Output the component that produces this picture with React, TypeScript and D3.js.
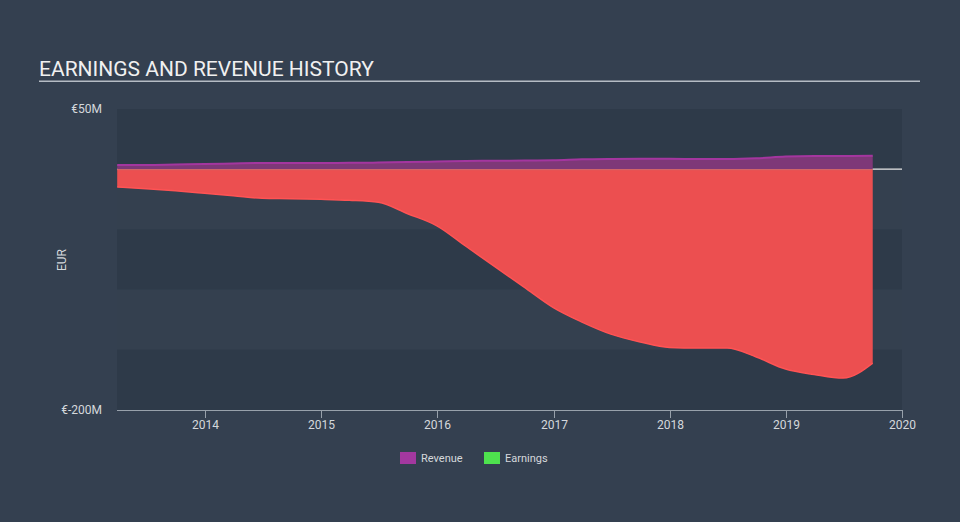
import React from "react";
import * as d3 from "d3";

const dates: string[] = [
  "2013-03-31","2013-06-30","2013-09-30","2013-12-31",
  "2014-03-31","2014-06-30","2014-09-30","2014-12-31",
  "2015-03-31","2015-06-30","2015-09-30","2015-12-31",
  "2016-03-31","2016-06-30","2016-09-30","2016-12-31",
  "2017-03-31","2017-06-30","2017-09-30","2017-12-31",
  "2018-03-31","2018-06-30","2018-09-30","2018-12-31",
  "2019-03-31","2019-06-30","2019-10-01",
];
const revenue: number[] = [
  3.5, 3.5, 3.9, 4.3, 4.8, 5.2, 5.2, 5.2, 5.3, 5.5, 6.0, 6.3, 6.8, 7.0,
  7.2, 7.4, 8.2, 8.5, 8.6, 8.6, 8.5, 8.4, 9.0, 10.5, 11.0, 11.0, 11.2,
];
const earnings: number[] = [
  -14.8, -16.3, -18.0, -20.0, -22.0, -24.2, -24.5, -25.0, -25.8, -27.5,
  -37, -47, -64, -81, -98, -115, -127, -137, -143.5, -148, -148.5,
  -148.5, -156, -166, -170.5, -173.5, -161,
];
const yearTicks: number[] = [2014, 2015, 2016, 2017, 2018, 2019, 2020];
const yTickValues: number[] = [50, -200];
const yTickLabels: string[] = ["€50M", "€-200M"];
const bandEdges: number[] = [50, 0, -50, -100, -150, -200];

const W = 960;
const H = 522;
const FONT = "Roboto, 'Open Sans', sans-serif";

export default function App() {
  const parse = d3.timeParse("%Y-%m-%d");
  const data = dates.map((d, i) => ({
    date: parse(d) as Date,
    rev: revenue[i],
    earn: earnings[i],
  }));

  const x = d3
    .scaleTime()
    .domain([new Date(2014, 0, 1), new Date(2020, 0, 1)])
    .range([205, 902]);
  const y = d3.scaleLinear().domain([-200, 50]).range([410, 109]);

  const curve = d3.curveMonotoneX;
  const revArea = d3
    .area<any>()
    .x((d) => x(d.date))
    .y0(y(0))
    .y1((d) => y(d.rev))
    .curve(curve);
  const revLine = d3
    .line<any>()
    .x((d) => x(d.date))
    .y((d) => y(d.rev))
    .curve(curve);
  const earnArea = d3
    .area<any>()
    .x((d) => x(d.date))
    .y0(y(0))
    .y1((d) => y(d.earn))
    .curve(curve);
  const earnLine = d3
    .line<any>()
    .x((d) => x(d.date))
    .y((d) => y(d.earn))
    .curve(curve);

  const bands = [];
  for (let i = 0; i < bandEdges.length - 1; i++) {
    bands.push(
      <rect
        key={i}
        x={117}
        y={y(bandEdges[i])}
        width={902 - 117}
        height={y(bandEdges[i + 1]) - y(bandEdges[i])}
        fill={i % 2 === 0 ? "#2e3a49" : "#34404f"}
      />
    );
  }

  const lastX = x(data[data.length - 1].date);

  return (
    <svg
      width={W}
      height={H}
      style={{ display: "block", position: "absolute", left: 0, top: 0 }}
    >
      <rect x={0} y={0} width={W} height={H} fill="#344050" />
      <text x={39} y={76} fill="#f0f0f0" fontFamily={FONT} fontSize={21}>
        EARNINGS AND REVENUE HISTORY
      </text>
      <rect x={39} y={80.5} width={881} height={1.5} fill="#b5bcc4" />

      {bands}

      <line
        x1={117}
        x2={902}
        y1={y(0)}
        y2={y(0)}
        stroke="#e8e8e8"
        strokeWidth={1.2}
      />

      <path d={revArea(data) || ""} fill="#7e3878" />
      <path d={revLine(data) || ""} fill="none" stroke="#a4369f" strokeWidth={2} />
      <path d={earnArea(data) || ""} fill="#ec4f50" />
      <path d={earnLine(data) || ""} fill="none" stroke="#ff5354" strokeWidth={1.5} />
      <line x1={117} x2={lastX} y1={y(0) + 0.5} y2={y(0) + 0.5} stroke="#c96a6a" strokeWidth={1} opacity={0.6} />

      {yTickValues.map((v, i) => (
        <text
          key={v}
          x={102}
          y={y(v) + 4}
          textAnchor="end"
          fill="#d4d8dc"
          fontFamily={FONT}
          fontSize={12}
        >
          {yTickLabels[i]}
        </text>
      ))}
      <text
        transform={`translate(66,${260}) rotate(-90)`}
        textAnchor="middle"
        fill="#d4d8dc"
        fontFamily={FONT}
        fontSize={12}
      >
        EUR
      </text>

      <line x1={117} x2={903} y1={410.5} y2={410.5} stroke="#98a1ab" strokeWidth={1} />
      {yearTicks.map((t) => {
        const xx = Math.round(x(new Date(t, 0, 1))) + 0.5;
        return (
          <g key={t}>
            <line x1={xx} x2={xx} y1={410} y2={418} stroke="#98a1ab" strokeWidth={1} />
            <text
              x={xx}
              y={429}
              textAnchor="middle"
              fill="#d4d8dc"
              fontFamily={FONT}
              fontSize={12}
            >
              {t}
            </text>
          </g>
        );
      })}

      <rect x={400} y={452} width={16} height={12} fill="#a3389f" />
      <text x={421} y={462} fill="#d4d8dc" fontFamily={FONT} fontSize={11}>
        Revenue
      </text>
      <rect x={484} y={452} width={16} height={12} fill="#4ee24e" />
      <text x={505} y={462} fill="#d4d8dc" fontFamily={FONT} fontSize={11}>
        Earnings
      </text>
    </svg>
  );
}
